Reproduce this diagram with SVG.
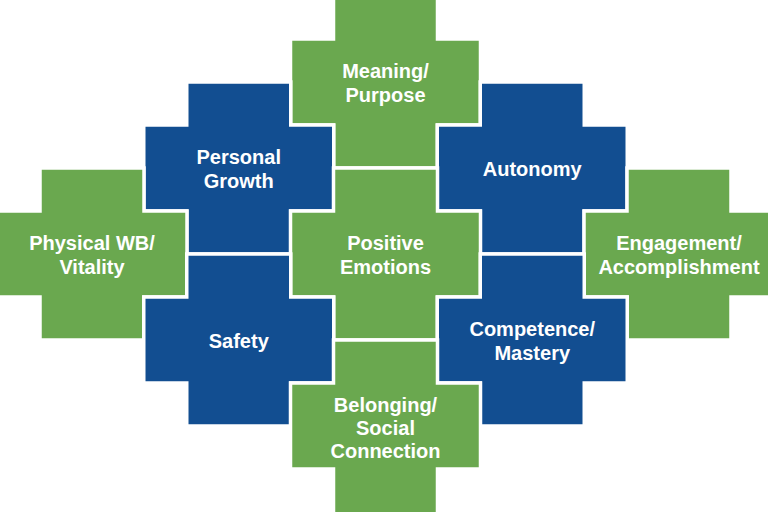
<svg xmlns="http://www.w3.org/2000/svg" xmlns:xlink="http://www.w3.org/1999/xlink" width="768" height="512" viewBox="0 0 768 512">
  <style>
    .g { fill: #6AA84F; stroke: #ffffff; stroke-width: 3.5; }
    .b { fill: #124E91; stroke: #ffffff; stroke-width: 3.5; }
    text { font-family: "Liberation Sans", Arial, sans-serif; font-weight: bold; font-size: 20px; fill: #ffffff; text-anchor: middle; }
  </style>
  <defs>
    <path id="cross" d="M -52,-86 H 52 V -43 H 95 V 43 H 52 V 86 H -52 V 43 H -95 V -43 H -52 Z"/>
    <path id="cross-long" d="M -52,-86 H 52 V -43 H 95 V 43 H 52 V 96 H -52 V 43 H -95 V -43 H -52 Z"/>
  </defs>
  <rect width="768" height="512" fill="#ffffff"/>
  <g id="connectors"/>
  <g id="meaning">
    <use xlink:href="#cross" href="#cross" class="g" transform="translate(385.5,82)"/>
    <text x="385.5" y="78">Meaning/</text>
    <text x="385.5" y="102">Purpose</text>
  </g>
  <g id="personal-growth">
    <use xlink:href="#cross" href="#cross" class="b" transform="translate(238.75,168)"/>
    <text x="238.75" y="164">Personal</text>
    <text x="238.75" y="188">Growth</text>
  </g>
  <g id="autonomy">
    <use xlink:href="#cross" href="#cross" class="b" transform="translate(532.25,168)"/>
    <text x="532.25" y="176">Autonomy</text>
  </g>
  <g id="physical">
    <use xlink:href="#cross" href="#cross" class="g" transform="translate(92,254)"/>
    <text x="92" y="250">Physical WB/</text>
    <text x="92" y="274">Vitality</text>
  </g>
  <g id="positive-emotions">
    <use xlink:href="#cross" href="#cross" class="g" transform="translate(385.5,254)"/>
    <text x="385.5" y="250">Positive</text>
    <text x="385.5" y="274">Emotions</text>
  </g>
  <g id="engagement">
    <use xlink:href="#cross" href="#cross" class="g" transform="translate(679,254)"/>
    <text x="679" y="250">Engagement/</text>
    <text x="679" y="274">Accomplishment</text>
  </g>
  <g id="safety">
    <use xlink:href="#cross" href="#cross" class="b" transform="translate(238.75,340)"/>
    <text x="238.75" y="348">Safety</text>
  </g>
  <g id="competence">
    <use xlink:href="#cross" href="#cross" class="b" transform="translate(532.25,340)"/>
    <text x="532.25" y="336">Competence/</text>
    <text x="532.25" y="360">Mastery</text>
  </g>
  <g id="belonging">
    <use xlink:href="#cross-long" href="#cross-long" class="g" transform="translate(385.5,426)"/>
    <text x="385.5" y="412">Belonging/</text>
    <text x="385.5" y="435">Social</text>
    <text x="385.5" y="458">Connection</text>
  </g>
</svg>
